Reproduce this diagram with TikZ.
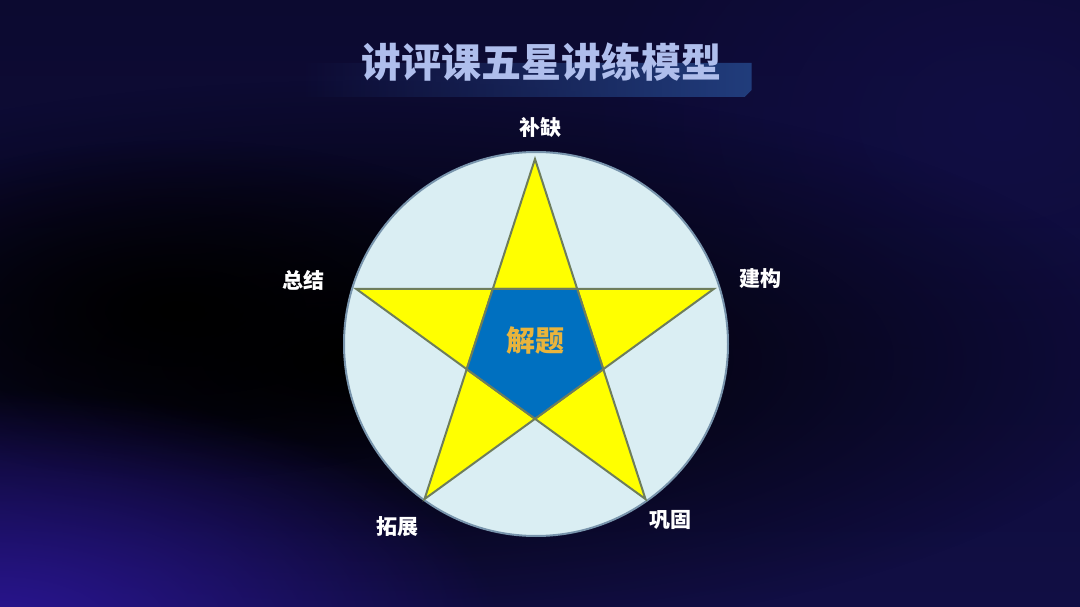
\documentclass[tikz,border=0pt]{standalone}
\usepackage{fontspec}
\usetikzlibrary{calc,fadings}
\newfontfamily\cjk{Noto Sans CJK SC}
\definecolor{bgnavy}{HTML}{110E44}
\definecolor{bgtop}{HTML}{0C0A30}
\definecolor{bgpurple}{HTML}{2A1592}
\definecolor{titleblue}{HTML}{AFBEEC}
\definecolor{barblue}{HTML}{213D7C}
\definecolor{discfill}{HTML}{DAEEF3}
\definecolor{discline}{HTML}{7894AC}
\definecolor{staryellow}{HTML}{FFFF00}
\definecolor{starline}{HTML}{6E7D5C}
\definecolor{coreblue}{HTML}{0070C0}
\definecolor{coretext}{HTML}{E9B43C}
\tikzfading[name=blob, inner color=transparent!0, outer color=transparent!100]
\begin{document}
\begin{tikzpicture}[x=1pt,y=-1pt,
  title/.style={text=titleblue,font=\cjk\bfseries\fontsize{40}{40}\selectfont,inner sep=0pt},
  tag/.style={text=white,font=\cjk\bfseries\fontsize{21}{21}\selectfont,inner sep=0pt},
  core/.style={text=coretext,font=\cjk\bfseries\fontsize{29}{29}\selectfont,inner sep=0pt},
  disc/.style={fill=discfill,draw=discline,line width=2pt},
  starfill/.style={fill=staryellow,draw=starline,line width=2pt,line join=miter},
  corefill/.style={fill=coreblue,draw=starline,line width=2pt}]
  % background
  \useasboundingbox (0,0) rectangle (1080,607);
  \shade[top color=bgtop,bottom color=bgnavy] (0,0) rectangle (1080,607);
  \fill[bgnavy,path fading=blob] (1000,120) ellipse (420 and 300);
  \fill[black,path fading=blob] (360,360) ellipse (800 and 280);
  \fill[black,path fading=blob] (180,310) ellipse (380 and 170);
  \fill[bgpurple,path fading=blob] (0,630) ellipse (500 and 240);
  % title
  \fill[barblue,path fading=west] (300,63) -- (752,63) -- (752,90) -- (745,97) -- (300,97) -- cycle;
  \node[title] (title) at (541,62) {讲评课五星讲练模型};
  % circle
  \coordinate (C) at (535,347);
  \draw[disc] (536,344) circle (192);
  % star points
  \foreach \i in {0,...,4} {
    \coordinate (P\i) at ($(C)+(-90+72*\i:188)$);
    \coordinate (Q\i) at ($(C)+(-54+72*\i:71.8)$);
  }
  \filldraw[starfill] (P0) -- (P2) -- (P4) -- (P1) -- (P3) -- cycle;
  \filldraw[corefill] (Q0) -- (Q1) -- (Q2) -- (Q3) -- (Q4) -- cycle;
  \node[core] (jt) at (535,341) {解题};
  % labels
  \node[tag] (bq) at (540,127) {补缺};
  \node[tag] (jg) at (760,279) {建构};
  \node[tag] (gg) at (670,520) {巩固};
  \node[tag] (tz) at (397,527) {拓展};
  \node[tag] (zj) at (303,280) {总结};
\end{tikzpicture}
\end{document}
